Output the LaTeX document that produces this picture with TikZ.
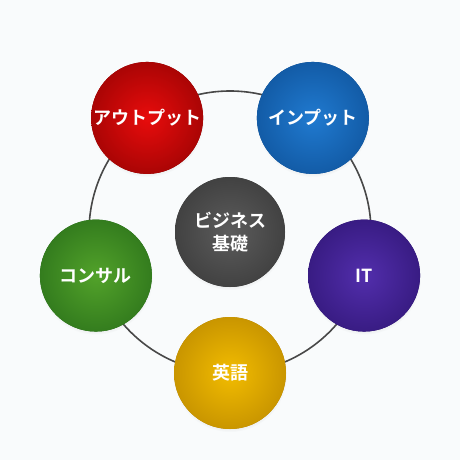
\documentclass[tikz,border=0pt]{standalone}
\usepackage{fontspec}
\newfontfamily\jp{Noto Sans CJK JP}[BoldFont={Noto Sans CJK JP Bold}]
\usetikzlibrary{shadows,calc}
\definecolor{bg}{RGB}{249,251,252}
\definecolor{ring}{RGB}{72,72,72}
\definecolor{redI}{RGB}{232,12,12}\definecolor{redO}{RGB}{130,0,0}
\definecolor{bluI}{RGB}{32,122,208}\definecolor{bluO}{RGB}{10,72,140}
\definecolor{purI}{RGB}{82,46,172}\definecolor{purO}{RGB}{40,16,105}
\definecolor{yelI}{RGB}{242,188,0}\definecolor{yelO}{RGB}{175,125,0}
\definecolor{grnI}{RGB}{82,162,42}\definecolor{grnO}{RGB}{32,100,22}
\definecolor{gryI}{RGB}{92,92,92}\definecolor{gryO}{RGB}{48,48,48}
\tikzset{
  ball/.style={circle, minimum size=112pt, inner sep=0pt, align=center,
    text=white, font=\jp\bfseries\fontsize{18}{23}\selectfont,
    fill=#1O,
    path picture={\shade[inner color=#1I, outer color=#1O]
      (path picture bounding box.center) circle[radius=92pt];},
    circular drop shadow={shadow xshift=0pt, shadow yshift=-2pt, shadow scale=1.02, opacity=0.2}},
  ringline/.style={draw=ring, line width=1.6pt}
}
\begin{document}
\begin{tikzpicture}[x=1pt,y=-1pt]
\fill[bg] (0,0) rectangle (460,460);
\useasboundingbox (0,0) rectangle (460,460);
\coordinate (c) at (230,232);
\draw[ringline] (c) circle[radius=141];
\node[ball=red] (out) at ($(c)+(-126:141)$) {アウトプット};
\node[ball=blu] (inp) at ($(c)+(-54:141)$) {インプット};
\node[ball=pur] (it) at ($(c)+(18:141)$) {IT};
\node[ball=yel] (eng) at ($(c)+(90:141)$) {英語};
\node[ball=grn] (con) at ($(c)+(162:141)$) {コンサル};
\node[ball=gry, minimum size=110pt] (biz) at (c) {ビジネス\\基礎};
\end{tikzpicture}
\end{document}
